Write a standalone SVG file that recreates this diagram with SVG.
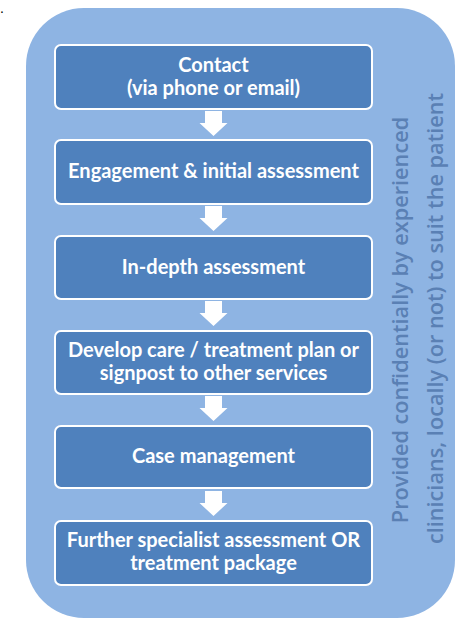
<svg xmlns="http://www.w3.org/2000/svg" width="456" height="619" viewBox="0 0 456 619">
<defs>
<style>
.box{fill:#4F81BD;stroke:#FFFFFF;stroke-width:2}
.lbl{font-family:Lato,"Open Sans",sans-serif;font-weight:bold;font-size:20px;fill:#FFFFFF;text-anchor:middle}
.side{font-family:"Open Sans",Lato,sans-serif;font-weight:600;font-size:21.7px;fill:#5A80B4;text-anchor:middle}
.arr{fill:#FFFFFF}
</style>
<path id="arrow" d="M-8.5,0 H8.5 V12 H14 L0,25 L-14,12 H-8.5 Z"/>
</defs>
<text x="0" y="13" font-family="Liberation Sans, sans-serif" font-size="14" fill="#000">.</text>
<rect id="container" x="26" y="8" width="429" height="610" rx="58" ry="58" fill="#8EB4E3"/>
<g id="connectors" class="arr">
<use href="#arrow" x="213.5" y="111"/>
<use href="#arrow" x="213.5" y="206"/>
<use href="#arrow" x="213.5" y="301"/>
<use href="#arrow" x="213.5" y="396"/>
<use href="#arrow" x="213.5" y="491"/>
</g>
<g id="n1"><rect class="box" x="55" y="45" width="317" height="64" rx="6"/><text class="lbl" x="213.5" y="72">Contact</text><text class="lbl" x="213.5" y="95">(via phone or email)</text></g>
<g id="n2"><rect class="box" x="55" y="140" width="317" height="64" rx="6"/><text class="lbl" x="213.5" y="178">Engagement &amp; initial assessment</text></g>
<g id="n3"><rect class="box" x="55" y="236" width="317" height="63" rx="6"/><text class="lbl" x="213.5" y="274">In-depth assessment</text></g>
<g id="n4"><rect class="box" x="55" y="331" width="317" height="63" rx="6"/><text class="lbl" x="213.5" y="357">Develop care / treatment plan or</text><text class="lbl" x="213.5" y="380">signpost to other services</text></g>
<g id="n5"><rect class="box" x="55" y="426" width="317" height="62" rx="6"/><text class="lbl" x="213.5" y="463">Case management</text></g>
<g id="n6"><rect class="box" x="55" y="521" width="317" height="64" rx="6"/><text class="lbl" x="213.5" y="547">Further specialist assessment OR</text><text class="lbl" x="213.5" y="570">treatment package</text></g>
<g id="side-label">
<text class="side" transform="translate(408,320) rotate(-90)">Provided confidentially by experienced</text>
<text class="side" transform="translate(443,318.5) rotate(-90)">clinicians, locally (or not) to suit the patient</text>
</g>
</svg>
